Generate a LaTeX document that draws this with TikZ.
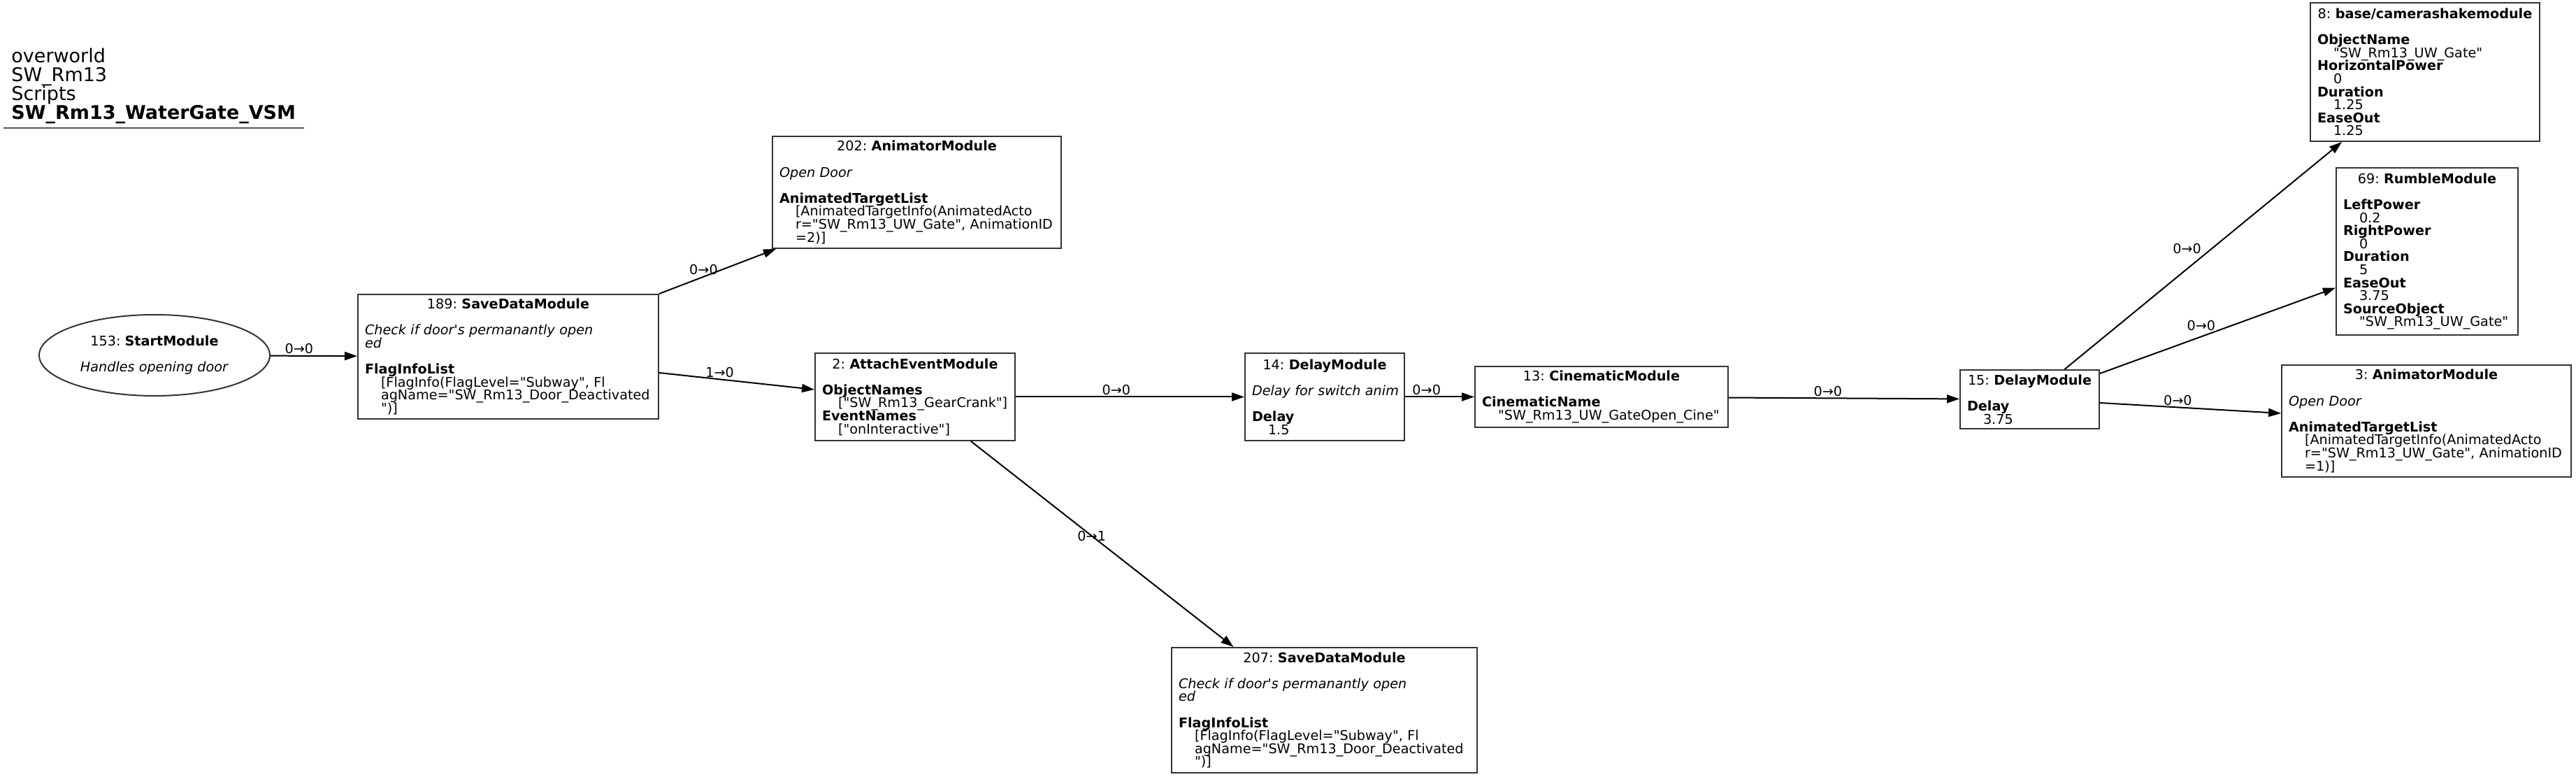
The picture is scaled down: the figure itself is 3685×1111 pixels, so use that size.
\documentclass[tikz,border=0pt]{standalone}
\usepackage{fontspec}
\newfontfamily\dejavu{DejaVu Sans}
\usepackage{tikz}
\usetikzlibrary{shapes,arrows.meta,positioning,calc}

\newcommand{\modfontsel}{\dejavu\fontsize{9.6}{9.3}\selectfont\frenchspacing\lineskiplimit=-9pt\relax}
\newcommand{\modhead}[2]{\makebox[\linewidth][c]{#1: \textbf{#2}}}
\newcommand{\modval}[1]{\hspace*{11.5pt}\mbox{#1}}
\newcommand{\moddesc}[1]{\mbox{\textit{#1}}}

\begin{document}
\begin{tikzpicture}[x=0.5pt, y=-0.5pt,
    modbox/.style={draw=black!80, line width=1pt, font=\modfontsel, align=left,
        inner xsep=5pt, inner ysep=1pt, text width=#1},
    lbl/.style={font=\modfontsel, inner sep=1pt},
    link/.style={-{Triangle[length=9pt,width=6pt]}, line width=1pt}]
    \useasboundingbox (0,0) rectangle (3685,1111);

    % Graph title
    \node [font=\dejavu\fontsize{13.5}{13.5}\selectfont, align=left, anchor=west, inner sep=0pt] (title) at (16,123)
        {overworld\\SW\_Rm13\\Scripts\\\textbf{SW\_Rm13\_WaterGate\_VSM}};
    \draw [black!65, line width=1pt] (5,183) -- (435,183);

    % Modules
    \node [ellipse, draw=black!80, line width=1pt, minimum width=165pt, minimum height=58pt,
        font=\modfontsel, align=center, inner sep=0pt] (s153) at (221,508)
        {153: \textbf{StartModule}\\ \mbox{}\\ \textit{Handles opening door}};
    \node [modbox=205pt, minimum height=89pt] (n189) at (727,510)
        {\modhead{189}{SaveDataModule}\\ \mbox{}\\ \moddesc{Check if door's permanantly open}\\ \moddesc{ed}\\ \mbox{}\\
         \textbf{FlagInfoList}\\ \modval{[FlagInfo(FlagLevel="Subway", Fl}\\ \modval{agName="SW\_Rm13\_Door\_Deactivated}\\ \modval{")]}};
    \node [modbox=196.5pt, minimum height=80pt] (n202) at (1311.5,275)
        {\modhead{202}{AnimatorModule}\\ \mbox{}\\ \moddesc{Open Door}\\ \mbox{}\\ \textbf{AnimatedTargetList}\\
         \modval{[AnimatedTargetInfo(AnimatedActo}\\ \modval{r="SW\_Rm13\_UW\_Gate", AnimationID}\\ \modval{=2)]}};
    \node [modbox=133pt, minimum height=62.5pt] (n2) at (1309,567.5)
        {\modhead{2}{AttachEventModule}\\ \mbox{}\\ \textbf{ObjectNames}\\ \modval{["SW\_Rm13\_GearCrank"]}\\
         \textbf{EventNames}\\ \modval{["onInteractive"]}};
    \node [modbox=104pt, minimum height=62.5pt] (n14) at (1895,567.5)
        {\modhead{14}{DelayModule}\\ \mbox{}\\ \moddesc{Delay for switch anim}\\ \mbox{}\\ \textbf{Delay}\\ \modval{1.5}};
    \node [modbox=171pt, minimum height=43.5pt] (n13) at (2291,567.5)
        {\modhead{13}{CinematicModule}\\ \mbox{}\\ \textbf{CinematicName}\\ \modval{"SW\_Rm13\_UW\_GateOpen\_Cine"}};
    \node [modbox=89.5pt, minimum height=42pt] (n15) at (2903.5,571)
        {\modhead{15}{DelayModule}\\ \mbox{}\\ \textbf{Delay}\\ \modval{3.75}};
    \node [modbox=154pt, minimum height=99pt] (n8) at (3469,103)
        {\modhead{8}{base/camerashakemodule}\\ \mbox{}\\ \textbf{ObjectName}\\ \modval{"SW\_Rm13\_UW\_Gate"}\\
         \textbf{HorizontalPower}\\ \modval{0}\\ \textbf{Duration}\\ \modval{1.25}\\ \textbf{EaseOut}\\ \modval{1.25}};
    \node [modbox=120pt, minimum height=119.5pt] (n69) at (3472,359.5)
        {\modhead{69}{RumbleModule}\\ \mbox{}\\ \textbf{LeftPower}\\ \modval{0.2}\\ \textbf{RightPower}\\ \modval{0}\\
         \textbf{Duration}\\ \modval{5}\\ \textbf{EaseOut}\\ \modval{3.75}\\ \textbf{SourceObject}\\ \modval{"SW\_Rm13\_UW\_Gate"}};
    \node [modbox=197pt, minimum height=80pt] (n3) at (3471,602)
        {\modhead{3}{AnimatorModule}\\ \mbox{}\\ \moddesc{Open Door}\\ \mbox{}\\ \textbf{AnimatedTargetList}\\
         \modval{[AnimatedTargetInfo(AnimatedActo}\\ \modval{r="SW\_Rm13\_UW\_Gate", AnimationID}\\ \modval{=1)]}};
    \node [modbox=208.5pt, minimum height=89.5pt] (n207) at (1894.5,1015.5)
        {\modhead{207}{SaveDataModule}\\ \mbox{}\\ \moddesc{Check if door's permanantly open}\\ \moddesc{ed}\\ \mbox{}\\
         \textbf{FlagInfoList}\\ \modval{[FlagInfo(FlagLevel="Subway", Fl}\\ \modval{agName="SW\_Rm13\_Door\_Deactivated}\\ \modval{")]}};

    % Links
    \draw [link] (s153) -- node [lbl, above, pos=0.33] {0→0} (n189);
    \draw [link] (n189.north east) -- node [lbl, above, pos=0.38] {0→0} ([xshift=3pt]n202.south west);
    \draw [link] ([yshift=-11.5pt]n189.east) -- node [lbl, above, pos=0.39] {1→0} ([yshift=5.25pt]n2.west);
    \draw [link] (n2) -- node [lbl, above, pos=0.44] {0→0} (n14);
    \draw [link] ([xshift=40pt]n2.south) -- node [lbl, pos=0.46] {0→1} ([xshift=-65pt]n207.north);
    \draw [link] (n14) -- node [lbl, above, pos=0.31] {0→0} (n13);
    \draw [link] (n13) -- node [lbl, above, pos=0.43] {0→0} (n15);
    \draw [link] ([xshift=25pt]n15.north) -- node [lbl, above left, pos=0.5] {0→0} ([xshift=-59.5pt]n8.south);
    \draw [link] ([yshift=18.5pt]n15.east) -- node [lbl, above=3pt, pos=0.43] {0→0} ([yshift=-26pt]n69.west);
    \draw [link] ([yshift=-2.5pt]n15.east) -- node [lbl, above, pos=0.43] {0→0} ([yshift=5.5pt]n3.west);
\end{tikzpicture}
\end{document}
